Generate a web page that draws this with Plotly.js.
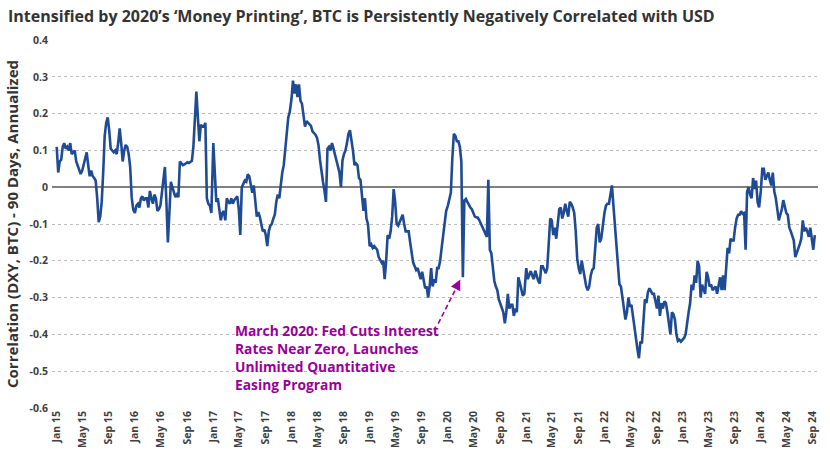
<!DOCTYPE html>
<html>
<head>
<meta charset="utf-8">
<script src="https://cdn.plot.ly/plotly-3.0.1.min.js"></script>
<style>html,body{margin:0;padding:0;background:#fff;}#chart{width:830px;height:457px;}</style>
</head>
<body>
<div id="chart"></div>
<script>
// Weekly readings of the 90-day DXY/BTC correlation, one array per year (week 0 = 1 Jan)
const v2015 = [0.11,0.04,0.07,0.075,0.11,0.12,0.105,0.11,0.10,0.12,0.09,0.095,0.10,0.07,0.06,0.05,0.036,0.045,0.065,0.085,0.095,0.06,0.03,0.045,0.03,0.025,0.018,-0.03,-0.095,-0.08,-0.04,0.04,0.14,0.175,0.19,0.155,0.105,0.10,0.095,0.10,0.09,0.12,0.16,0.12,0.07,0.10,0.115,0.11,0.09,0.055,-0.027,-0.06];
const v2016 = [-0.07,-0.05,-0.045,-0.055,-0.03,-0.025,-0.036,-0.03,-0.03,-0.055,-0.01,-0.03,-0.045,-0.02,-0.03,-0.064,-0.06,-0.05,-0.01,0.03,0.055,-0.04,-0.15,-0.07,0.015,0.0,-0.015,-0.027,-0.02,-0.027,0.07,0.065,0.06,0.062,0.066,0.068,0.066,0.068,0.072,0.11,0.18,0.26,0.19,0.125,0.17,0.165,0.165,0.175,-0.03,-0.045,-0.05,-0.07];
const v2017 = [0.12,0.05,-0.04,-0.03,-0.06,-0.09,-0.07,-0.065,-0.09,-0.03,-0.04,-0.045,-0.03,-0.045,-0.035,-0.03,-0.025,-0.06,-0.13,0.0,0.009,0.018,0.015,0.035,0.03,0.0,-0.015,0.005,-0.045,-0.08,-0.068,-0.08,-0.1,-0.12,-0.115,-0.13,-0.16,-0.12,-0.105,-0.1,-0.086,-0.075,-0.04,-0.02,-0.03,0.01,0.04,0.06,0.11,0.164,0.19,0.205];
const v2018 = [0.24,0.29,0.255,0.28,0.245,0.28,0.235,0.227,0.2,0.165,0.18,0.175,0.172,0.167,0.152,0.148,0.143,0.135,0.115,0.075,0.035,0.015,-0.01,-0.04,0.105,0.11,0.1,0.12,0.105,0.087,0.07,0.055,0.04,0.0,0.073,0.09,0.1,0.12,0.145,0.155,0.13,0.1,0.06,0.065,0.06,0.025,0.02,-0.03,-0.064,-0.03,-0.085,-0.1];
const v2019 = [-0.16,-0.155,-0.165,-0.16,-0.165,-0.17,-0.19,-0.2,-0.205,-0.2,-0.25,-0.2,-0.13,-0.14,-0.12,-0.08,-0.005,-0.04,-0.1,-0.105,-0.095,-0.085,-0.075,-0.1,-0.12,-0.12,-0.12,-0.15,-0.18,-0.205,-0.215,-0.225,-0.22,-0.24,-0.25,-0.23,-0.25,-0.275,-0.27,-0.3,-0.27,-0.22,-0.27,-0.25,-0.26,-0.22,-0.22,-0.2,-0.165,-0.13,-0.09,-0.065];
const v2020 = [-0.05,-0.035,-0.015,0.08,0.145,0.14,0.125,0.125,0.11,0.07,-0.245,-0.036,-0.032,-0.04,-0.05,-0.055,-0.06,-0.073,-0.08,-0.082,-0.083,-0.09,-0.1,-0.11,-0.118,-0.125,-0.135,0.02,-0.17,-0.18,-0.22,-0.255,-0.27,-0.28,-0.305,-0.315,-0.327,-0.34,-0.37,-0.34,-0.29,-0.33,-0.32,-0.32,-0.35,-0.33,-0.34,-0.245,-0.26,-0.28,-0.295,-0.29];
const v2021 = [-0.22,-0.25,-0.24,-0.228,-0.24,-0.25,-0.227,-0.245,-0.255,-0.262,-0.215,-0.215,-0.225,-0.234,-0.22,-0.14,-0.085,-0.09,-0.13,-0.11,-0.14,-0.1,-0.06,-0.055,-0.085,-0.07,-0.045,-0.064,-0.08,-0.04,-0.045,-0.055,-0.07,-0.12,-0.195,-0.22,-0.236,-0.2,-0.225,-0.25,-0.27,-0.28,-0.27,-0.24,-0.225,-0.22,-0.16,-0.11,-0.1,-0.15,-0.14,-0.1];
const v2022 = [-0.07,-0.05,-0.045,-0.045,-0.02,0.005,-0.05,-0.1,-0.16,-0.225,-0.264,-0.27,-0.3,-0.34,-0.36,-0.34,-0.3,-0.325,-0.32,-0.35,-0.385,-0.41,-0.44,-0.465,-0.42,-0.425,-0.37,-0.305,-0.315,-0.285,-0.275,-0.285,-0.29,-0.29,-0.31,-0.33,-0.295,-0.35,-0.315,-0.33,-0.31,-0.315,-0.34,-0.37,-0.4,-0.34,-0.345,-0.36,-0.4,-0.418,-0.415,-0.42];
const v2023 = [-0.415,-0.41,-0.4,-0.36,-0.34,-0.315,-0.265,-0.28,-0.24,-0.26,-0.2,-0.215,-0.3,-0.265,-0.275,-0.29,-0.23,-0.245,-0.27,-0.265,-0.28,-0.275,-0.27,-0.29,-0.26,-0.245,-0.28,-0.24,-0.28,-0.22,-0.165,-0.18,-0.14,-0.145,-0.145,-0.11,-0.085,-0.075,-0.075,-0.065,-0.072,-0.07,-0.17,-0.012,0.0,-0.02,-0.03,0.025,-0.005,0.018,-0.04,-0.055];
const v2024 = [-0.01,0.05,0.05,0.02,0.03,0.04,0.02,0.005,0.04,-0.012,-0.03,-0.055,-0.09,-0.075,-0.06,-0.035,-0.05,-0.07,-0.075,-0.11,-0.12,-0.136,-0.145,-0.19,-0.18,-0.165,-0.155,-0.14,-0.09,-0.12,-0.11,-0.12,-0.135,-0.11,-0.145,-0.17,-0.13];

const years = [2015,2016,2017,2018,2019,2020,2021,2022,2023,2024];
const yearValues = [v2015,v2016,v2017,v2018,v2019,v2020,v2021,v2022,v2023,v2024];

const yTickVals = [-0.6,-0.5,-0.4,-0.3,-0.2,-0.1,0,0.1,0.2,0.3,0.4];
const yTickText = ['-0.6','-0.5','-0.4','-0.3','-0.2','-0.1','0','0.1','0.2','0.3','0.4'];

const titleText = 'Intensified by 2020\u2019s \u2018Money Printing\u2019, BTC is Persistently Negatively Correlated with USD';
const yTitleText = 'Correlation (DXY, BTC) - 90 Days, Annualized';
const noteText = 'March 2020: Fed Cuts Interest<br>Rates Near Zero, Launches<br>Unlimited Quantitative<br>Easing Program';

const xs = [], ys = [];
years.forEach((yr, i) => {
  yearValues[i].forEach((v, k) => {
    xs.push(new Date(Date.UTC(yr, 0, 1 + 7 * k)).toISOString().slice(0, 10));
    ys.push(v);
  });
});

const FONT = 'Open Sans, Liberation Sans, sans-serif';
const purple = '#990099';

const trace = {
  x: xs, y: ys, type: 'scatter', mode: 'lines',
  line: {color: '#1f4b94', width: 2.6},
  hoverinfo: 'x+y'
};

const layout = {
  width: 830, height: 457,
  margin: {l: 52, r: 12, t: 40, b: 49},
  paper_bgcolor: '#ffffff', plot_bgcolor: '#ffffff',
  showlegend: false,
  title: {
    text: titleText, xref: 'container', x: 0.0096, xanchor: 'left',
    yref: 'container', y: 0.965, yanchor: 'middle',
    font: {family: FONT, size: 16, weight: 700, color: '#333333'}
  },
  xaxis: {
    type: 'date', range: ['2014-12-10', '2024-09-24'],
    tickmode: 'linear', tick0: '2015-01-01', dtick: 'M4', tickformat: '%b %y',
    tickangle: -90, showgrid: false, zeroline: false, showline: false, ticks: '',
    tickfont: {family: FONT, size: 10.5, weight: 700, color: '#404040'},
    fixedrange: true
  },
  yaxis: {
    range: [-0.6005, 0.4005], tickmode: 'array', tickvals: yTickVals, ticktext: yTickText,
    showgrid: true, griddash: 'dot', gridcolor: '#bdbdbd', gridwidth: 1,
    zeroline: true, zerolinecolor: '#808080', zerolinewidth: 1.5,
    showline: false, ticks: '', ticklabelstandoff: 3,
    tickfont: {family: FONT, size: 10.5, weight: 700, color: '#404040'},
    title: {text: yTitleText, standoff: 7, font: {family: FONT, size: 15, weight: 700, color: '#333333'}},
    fixedrange: true
  },
  shapes: [{
    type: 'line', xref: 'x', yref: 'y',
    x0: '2019-11-17', y0: -0.371, x1: '2020-02-12', y1: -0.2706,
    line: {color: purple, width: 1.6, dash: '5px,3px'}
  }],
  annotations: [
    {
      xref: 'x', yref: 'y', x: '2017-04-03', y: -0.463,
      xanchor: 'left', yanchor: 'middle', align: 'left', showarrow: false,
      text: noteText, font: {family: FONT, size: 13.8, weight: 700, color: purple}
    },
    {
      xref: 'x', yref: 'y', x: '2020-02-28', y: -0.251,
      axref: 'pixel', ayref: 'pixel', ax: -4.5, ay: 9,
      text: '', showarrow: true, arrowhead: 2, arrowsize: 1.3, arrowwidth: 1.6,
      arrowcolor: purple, standoff: 0, startstandoff: 0
    }
  ]
};

Plotly.newPlot('chart', [trace], layout, {displayModeBar: false, staticPlot: true});
</script>
</body>
</html>
